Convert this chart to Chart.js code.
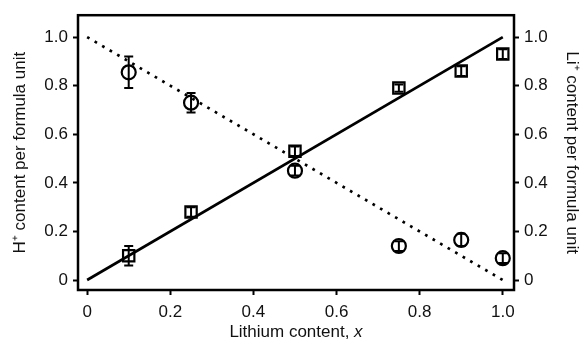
<!DOCTYPE html>
<html>
<head>
<meta charset="utf-8">
<script src="https://cdn.jsdelivr.net/npm/chart.js@4.4.0/dist/chart.umd.min.js"></script>
<style>
  html, body { margin: 0; padding: 0; background: #fff; }
  #wrap { width: 580px; height: 342px; }
</style>
</head>
<body>
<div id="wrap"><canvas id="chart"></canvas></div>
<script>
// lithium fraction x of each sample
var xValues = [0.1, 0.25, 0.5, 0.75, 0.9, 1.0];
// H+ per formula unit (circles, left axis) with error
var hContent = [0.855, 0.73, 0.45, 0.14, 0.165, 0.09];
var hError = [0.065, 0.04, 0.02, 0.02, 0.025, 0.02];
// Li+ per formula unit (squares, right axis) with error
var liContent = [0.10, 0.28, 0.53, 0.79, 0.86, 0.93];
var liError = [0.04, 0.02, 0.02, 0.015, 0.02, 0.02];
// ideal exchange lines
var liIdeal = [[0, 0], [1, 1]];
var hIdeal = [[0, 1], [1, 0]];
var tickValues = [0, 0.2, 0.4, 0.6, 0.8, 1.0];

var FONT = '"Liberation Sans", Arial, sans-serif';
var INK = '#111';

function toPoints(xs, ys) {
  return xs.map(function (x, i) { return { x: x, y: ys[i] }; });
}
function pairPoints(arr) {
  return arr.map(function (p) { return { x: p[0], y: p[1] }; });
}
function fmt(v) { return v === 0 ? '0' : v.toFixed(1); }
function fixTicks(axis) {
  axis.ticks = tickValues.map(function (v) { return { value: v }; });
}

// vertical error bars with caps, drawn through the markers
var errorBars = {
  id: 'errorBars',
  afterDatasetsDraw: function (chart) {
    var ctx = chart.ctx;
    var xs = chart.scales.x;
    ctx.save();
    ctx.strokeStyle = '#000';
    ctx.lineWidth = 2;
    chart.data.datasets.forEach(function (ds) {
      if (!ds.errors) return;
      var ys = chart.scales[ds.yAxisID];
      ds.data.forEach(function (p, i) {
        var px = xs.getPixelForValue(p.x);
        var top = ys.getPixelForValue(p.y + ds.errors[i]);
        var bot = ys.getPixelForValue(p.y - ds.errors[i]);
        ctx.beginPath();
        ctx.moveTo(px, top); ctx.lineTo(px, bot);
        ctx.moveTo(px - 4.5, top); ctx.lineTo(px + 4.5, top);
        ctx.moveTo(px - 4.5, bot); ctx.lineTo(px + 4.5, bot);
        ctx.stroke();
      });
    });
    ctx.restore();
  }
};

// box round the plot area and the x-axis title with italic x
var frame = {
  id: 'frame',
  afterDraw: function (chart) {
    var ctx = chart.ctx;
    var a = chart.chartArea;
    ctx.save();
    ctx.strokeStyle = '#000';
    ctx.lineWidth = 2.5;
    ctx.strokeRect(a.left, a.top, a.right - a.left, a.bottom - a.top);

    var plain = 'Lithium content, ';
    var ital = 'x';
    ctx.fillStyle = INK;
    ctx.textBaseline = 'middle';
    ctx.font = '17px ' + FONT;
    var w1 = ctx.measureText(plain).width;
    ctx.font = 'italic 17px ' + FONT;
    var w2 = ctx.measureText(ital).width;
    var x0 = (a.left + a.right) / 2 - (w1 + w2) / 2;
    var y0 = 332;
    ctx.textAlign = 'left';
    ctx.font = '17px ' + FONT;
    ctx.fillText(plain, x0, y0);
    ctx.font = 'italic 17px ' + FONT;
    ctx.fillText(ital, x0 + w1, y0);
    ctx.restore();
  }
};

var tickFont = { family: FONT, size: 17 };
var gridOpts = {
  display: true,
  drawOnChartArea: false,
  drawTicks: true,
  tickLength: 5,
  tickWidth: 2,
  tickColor: '#000'
};

new Chart(document.getElementById('chart'), {
  type: 'scatter',
  data: {
    datasets: [
      {
        label: 'Li ideal',
        data: pairPoints(liIdeal),
        yAxisID: 'y2',
        showLine: true,
        borderColor: '#000',
        borderWidth: 2.7,
        pointRadius: 0
      },
      {
        label: 'H ideal',
        data: pairPoints(hIdeal),
        yAxisID: 'y',
        showLine: true,
        borderColor: '#000',
        borderWidth: 2.7,
        borderDash: [2.7, 6],
        pointRadius: 0
      },
      {
        label: 'H+',
        data: toPoints(xValues, hContent),
        errors: hError,
        yAxisID: 'y',
        pointStyle: 'circle',
        pointRadius: 7,
        pointBorderWidth: 2.2,
        borderColor: '#000',
        backgroundColor: 'rgba(0,0,0,0)'
      },
      {
        label: 'Li+',
        data: toPoints(xValues, liContent),
        errors: liError,
        yAxisID: 'y2',
        pointStyle: 'rect',
        pointRadius: 8,
        pointBorderWidth: 2.2,
        borderColor: '#000',
        backgroundColor: 'rgba(0,0,0,0)'
      }
    ]
  },
  options: {
    responsive: true,
    maintainAspectRatio: false,
    animation: false,
    layout: { padding: { top: 13, left: 0, right: 0, bottom: 0 } },
    plugins: {
      legend: { display: false },
      tooltip: { enabled: false }
    },
    scales: {
      x: {
        type: 'linear',
        min: -0.022,
        max: 1.027,
        afterBuildTicks: fixTicks,
        afterFit: function (s) { s.height = 52; },
        grid: gridOpts,
        border: { display: false },
        ticks: { color: INK, font: tickFont, padding: 7, callback: fmt }
      },
      y: {
        type: 'linear',
        position: 'left',
        min: -0.041,
        max: 1.09,
        afterBuildTicks: fixTicks,
        afterFit: function (s) { s.width = 78; },
        grid: gridOpts,
        border: { display: false },
        ticks: { color: INK, font: tickFont, padding: 5, callback: fmt },
        title: {
          display: true,
          text: 'H\u207A content per formula unit',
          color: INK,
          font: { family: FONT, size: 17, lineHeight: 1 },
          padding: { top: 12, bottom: 0 }
        }
      },
      y2: {
        type: 'linear',
        position: 'right',
        min: -0.041,
        max: 1.09,
        afterBuildTicks: fixTicks,
        afterFit: function (s) { s.width = 66; },
        grid: gridOpts,
        border: { display: false },
        ticks: { color: INK, font: tickFont, padding: 5, callback: fmt },
        title: {
          display: true,
          text: 'Li\u207A content per formula unit',
          color: INK,
          font: { family: FONT, size: 17, lineHeight: 1 },
          padding: { top: 0, bottom: 0 }
        }
      }
    }
  },
  plugins: [errorBars, frame]
});
</script>
</body>
</html>
